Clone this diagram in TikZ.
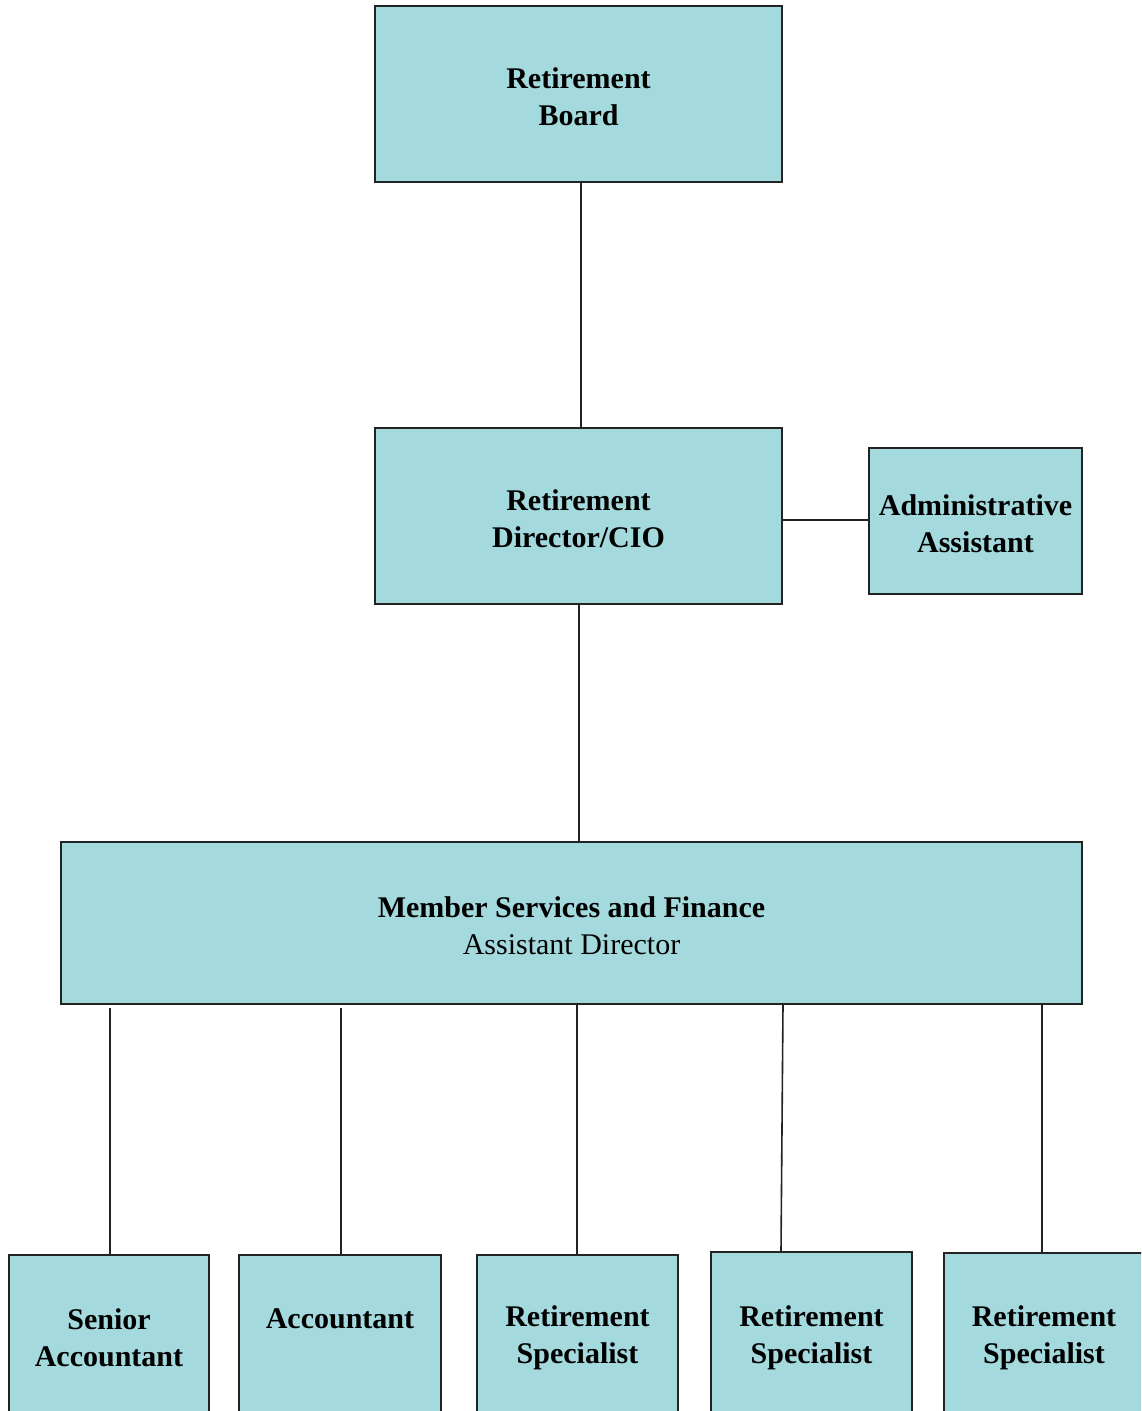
\documentclass[tikz,border=0pt]{standalone}
\usepackage{fontspec}
\setmainfont{Liberation Serif}
\definecolor{boxfill}{RGB}{164,218,222}
\definecolor{edge}{RGB}{35,35,35}
\begin{document}
\begin{tikzpicture}[x=1pt,y=-1pt,
  orgbox/.style={draw=edge, line width=1.8pt, fill=boxfill, inner sep=0pt,
    align=center, font=\fontsize{30}{37}\selectfont\bfseries},
  boxtext/.style={align=center, inner sep=0pt, font=\fontsize{30}{37}\selectfont\bfseries, yshift=-3pt},
  link/.style={draw=edge, line width=1.6pt}]
\clip (0,0) rectangle (1141,1411);
\fill[white] (0,0) rectangle (1141,1411);

\node[orgbox, minimum width=407pt, minimum height=176pt,
  label={[boxtext]center:{Retirement\\Board}}] (board) at (578.5,94) {};
\node[orgbox, minimum width=407pt, minimum height=176pt,
  label={[boxtext]center:{Retirement\\Director/CIO}}] (dir) at (578.5,516) {};
\node[orgbox, minimum width=213pt, minimum height=146pt,
  label={[boxtext]center:{Administrative\\Assistant}}] (admin) at (975.5,521) {};
\node[orgbox, minimum width=1021pt, minimum height=162pt,
  label={[boxtext]center:{Member Services and Finance\\{\mdseries Assistant Director}}}] (member) at (571.5,923) {};

\node[orgbox, minimum width=200pt, minimum height=165pt] (sa) at (109,1337.5) {Senior\\Accountant};
\node[orgbox, minimum width=202pt, minimum height=165pt] (acc) at (340,1337.5) {Accountant\\\phantom{A}};
\node[orgbox, minimum width=201pt, minimum height=165pt] (rs1) at (577.5,1337.5) {Retirement\\Specialist};
\node[orgbox, minimum width=201pt, minimum height=171pt] (rs2) at (811.5,1337.5) {Retirement\\Specialist};
\node[orgbox, minimum width=200pt, minimum height=169pt] (rs3) at (1044,1337.5) {Retirement\\Specialist};

\draw[link] (board.south -| 581,0) -- (dir.north -| 581,0);
\draw[link] (dir.south -| 579,0) -- (member.north -| 579,0);
\draw[link] (dir.east |- 0,520) -- (admin.west |- 0,520);

\draw[link] (110,1008) -- (sa.north -| 110,0);
\draw[link] (341,1008) -- (acc.north -| 341,0);
\draw[link] (member.south -| 577,0) -- (rs1.north -| 577,0);
\draw[link] (member.south -| 783,0) -- (rs2.north -| 781,0);
\draw[link] (member.south -| 1042,0) -- (rs3.north -| 1042,0);
\end{tikzpicture}
\end{document}
